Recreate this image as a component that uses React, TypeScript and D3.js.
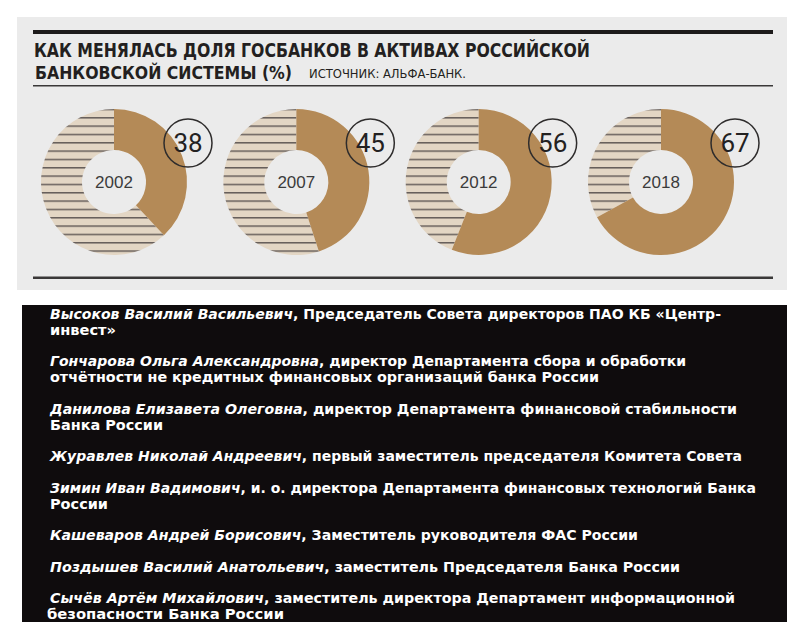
import React from "react";
import * as d3 from "d3";

// state banks share in russian banking assets, %
const years = ["2002", "2007", "2012", "2018"];
const stateShare = [38, 45, 56, 67];

const titleLine1 = "КАК МЕНЯЛАСЬ ДОЛЯ ГОСБАНКОВ В АКТИВАХ РОССИЙСКОЙ";
const titleLine2 = "БАНКОВСКОЙ СИСТЕМЫ (%)";
const sourceText = "ИСТОЧНИК: АЛЬФА-БАНК.";

const names = [
  "Высоков Василий Васильевич",
  "Гончарова Ольга Александровна",
  "Данилова Елизавета Олеговна",
  "Журавлев Николай Андреевич",
  "Зимин Иван Вадимович",
  "Кашеваров Андрей Борисович",
  "Поздышев Василий Анатольевич",
  "Сычёв Артём Михайлович",
];
const roles = [
  [", Председатель Совета директоров ПАО КБ «Центр-", "инвест»"],
  [", директор Департамента сбора и обработки", "отчётности не кредитных финансовых организаций банка России"],
  [", директор Департамента финансовой стабильности", "Банка России"],
  [", первый заместитель председателя Комитета Совета"],
  [", и. о. директора Департамента финансовых технологий Банка", "России"],
  [", Заместитель руководителя ФАС России"],
  [", заместитель Председателя Банка России"],
  [", заместитель директора Департамент информационной", "безопасности Банка России"],
];

// layout
const W = 804;
const H = 640;
const GOLD = "#b48a57";
const BEIGE = "#e3d6c4";
const STRIPE = "#675f5b";
const entryTop = [319, 366, 414, 461, 493, 540, 572, 603];
const lineGap = 16;
const lineEnds = [
  [721, 116],
  [686, 599],
  [737, 163],
  [742],
  [756, 108],
  [638],
  [680],
  [735, 284],
];

export default function App() {
  const x = d3.scalePoint<string>().domain(years).range([114, 661]);
  const cy = 182;
  const pie = d3.pie<number>().sort(null).value((d) => d);
  const arc = d3.arc<d3.PieArcDatum<number>>().innerRadius(32).outerRadius(73);

  return (
    <svg width={W} height={H} style={{ position: "absolute", left: 0, top: 0, background: "#fff" }}>
      <defs>
        <pattern id="stripes" patternUnits="userSpaceOnUse" width={10} height={8.33} y={1.7}>
          <rect width={10} height={8.33} fill={BEIGE} />
          <rect width={10} height={1.5} fill={STRIPE} />
        </pattern>
      </defs>

      {/* top panel */}
      <rect x={17} y={17} width={770} height={273} fill="#ebebeb" />
      <rect x={33} y={30} width={740} height={4} fill="#1d1b1b" />
      <rect x={33} y={85} width={740} height={1.5} fill="#3a3838" />
      <rect x={33} y={276.5} width={740} height={2.5} fill="#3a3838" />

      <g fill="#231f20" fontFamily="'DejaVu Sans Condensed', sans-serif" fontWeight="bold">
        <text x={34} y={57} fontSize={19} textLength={556} lengthAdjust="spacingAndGlyphs">{titleLine1}</text>
        <text x={35} y={79} fontSize={18} textLength={257} lengthAdjust="spacingAndGlyphs">{titleLine2}</text>
      </g>
      <text x={309} y={78} fontSize={11.5} fill="#231f20" fontFamily="'DejaVu Sans Condensed', sans-serif"
        textLength={157} lengthAdjust="spacingAndGlyphs">{sourceText}</text>

      {years.map((yr, i) => {
        const cx = x(yr)!;
        const arcs = pie([stateShare[i], 100 - stateShare[i]]);
        return (
          <g key={yr}>
            <g transform={`translate(${cx},${cy})`}>
              <path d={arc(arcs[1])!} fill="url(#stripes)" />
              <path d={arc(arcs[0])!} fill={GOLD} />
            </g>
            <text x={cx} y={cy + 6} textAnchor="middle" fontSize={17} fill="#3b3b3b"
              fontFamily="'Liberation Sans', Arial, sans-serif">{yr}</text>
            <circle cx={cx + 74} cy={cy - 39} r={24} fill="none" stroke="#2e2c2c" strokeWidth={1.5} />
            <text x={cx + 74} y={cy - 30.5} textAnchor="middle" fontSize={26} fill="#232121"
              fontFamily="Roboto, 'Liberation Sans', sans-serif" fontWeight={400}>{stateShare[i]}</text>
          </g>
        );
      })}

      {/* list panel */}
      <rect x={22} y={305} width={765} height={317} fill="#0f0c0d" />
      {names.map((nm, i) => {
        const narrow = i >= 5;
        const fam = narrow ? "'DejaVu Sans Condensed', sans-serif" : "'DejaVu Sans', Verdana, sans-serif";
        return roles[i].map((ln, j) => {
          const x0 = narrow && j > 0 ? 47 : 50;
          return (
            <text key={`${i}-${j}`} x={x0} y={entryTop[i] + j * lineGap} fill="#fff" fontFamily={fam}
              fontWeight="bold" fontSize={narrow ? 14 : 13.8}
              textLength={lineEnds[i][j] - x0} lengthAdjust="spacingAndGlyphs">
              {j === 0 ? <tspan fontStyle="italic">{nm}</tspan> : null}
              {ln}
            </text>
          );
        });
      })}
    </svg>
  );
}
